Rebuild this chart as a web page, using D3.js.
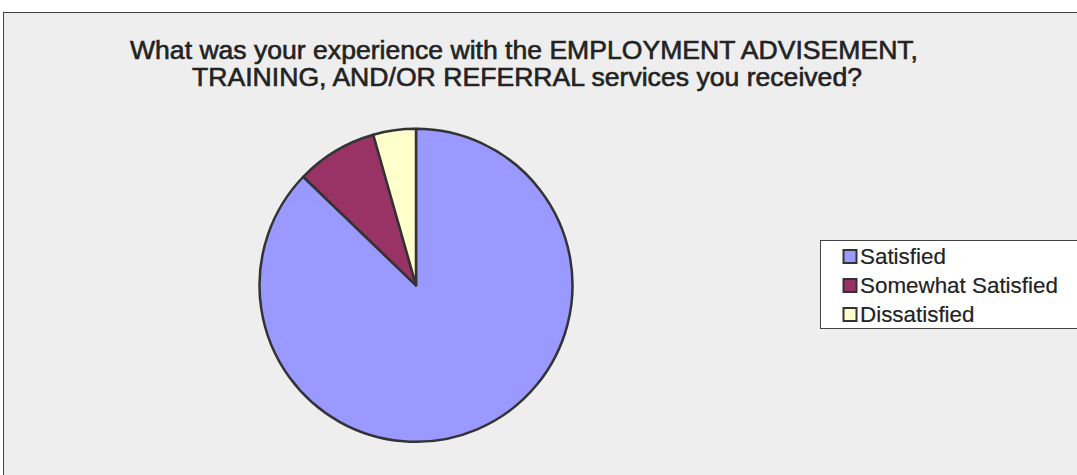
<!DOCTYPE html>
<html>
<head>
<meta charset="utf-8">
<script src="https://cdn.jsdelivr.net/npm/d3@7"></script>
<style>
  html, body { margin: 0; padding: 0; background: #ffffff; }
  svg { display: block; }
  text { font-family: "Liberation Sans", Arial, sans-serif; fill: #222; }
</style>
</head>
<body>
<svg id="chart" width="1077" height="475"></svg>
<script>
// Survey responses (share of respondents, %)
const categories = ["Satisfied", "Somewhat Satisfied", "Dissatisfied"];
const shares = [87.2, 8.4, 4.4];
const colors = ["#9999ff", "#993366", "#ffffcc"];
const titleLines = [
  "What was your experience with the EMPLOYMENT ADVISEMENT,",
  "TRAINING, AND/OR REFERRAL services you received?"
];

const svg = d3.select("#chart");

// Chart area background and frame
svg.append("rect")
  .attr("x", 3.5).attr("y", 12.5)
  .attr("width", 1090).attr("height", 480)
  .attr("fill", "#eeeeee")
  .attr("stroke", "#444").attr("stroke-width", 1);

// Title (two centred lines, slightly heavy weight)
const title = svg.append("g");
const titleBase = [58.5, 86];
const titleSpan = [[130, 918], [192, 862]];
titleLines.forEach((t, i) => {
  title.append("text")
    .attr("x", titleSpan[i][0])
    .attr("y", titleBase[i])
    .attr("font-size", 25)
    .attr("textLength", titleSpan[i][1] - titleSpan[i][0])
    .attr("lengthAdjust", "spacingAndGlyphs")
    .attr("fill", "#262626")
    .attr("stroke", "#262626")
    .attr("stroke-width", 0.6)
    .text(t);
});

// Pie
const cx = 416, cy = 285.3, r = 156.5;
const pie = d3.pie().sort(null).value(d => d.v);
const arc = d3.arc().innerRadius(0).outerRadius(r);
const data = categories.map((c, i) => ({ c, v: shares[i], color: colors[i] }));

svg.append("g")
  .attr("transform", `translate(${cx},${cy})`)
  .selectAll("path")
  .data(pie(data))
  .join("path")
  .attr("d", arc)
  .attr("fill", d => d.data.color)
  .attr("stroke", "#333")
  .attr("stroke-width", 2.5)
  .attr("stroke-linejoin", "round");

// Legend
const legend = svg.append("g");
legend.append("rect")
  .attr("x", 820.5).attr("y", 240.5)
  .attr("width", 300).attr("height", 88)
  .attr("fill", "#ffffff")
  .attr("stroke", "#444").attr("stroke-width", 1);

const rowY = d3.scalePoint().domain(categories).range([264, 322]);
const items = legend.selectAll("g.item")
  .data(data)
  .join("g")
  .attr("class", "item")
  .attr("transform", d => `translate(0,${rowY(d.c)})`);

items.append("rect")
  .attr("x", 843.5).attr("y", -14)
  .attr("width", 13).attr("height", 13)
  .attr("fill", d => d.color)
  .attr("stroke", "#333").attr("stroke-width", 2);

items.append("text")
  .attr("x", 860)
  .attr("y", 0)
  .attr("font-size", 22.4)
  .attr("fill", "#262626")
  .attr("stroke", "#262626")
  .attr("stroke-width", 0.2)
  .text(d => d.c);
</script>
</body>
</html>
